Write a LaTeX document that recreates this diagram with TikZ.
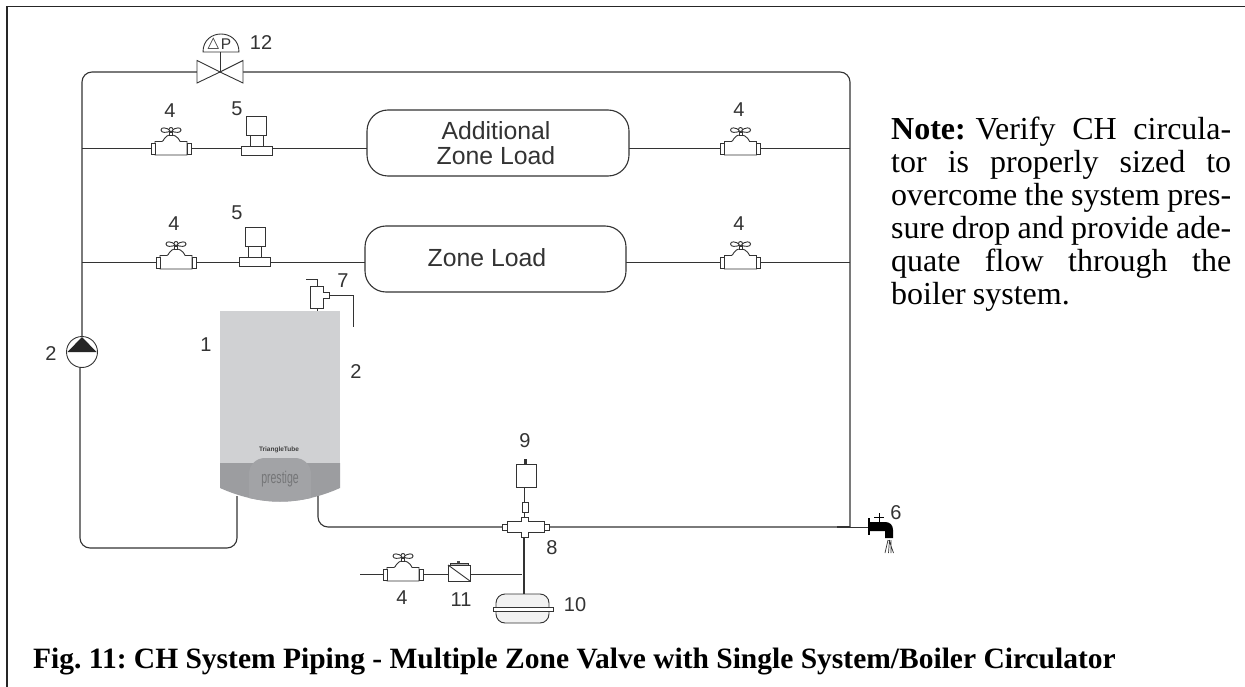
\documentclass[tikz,border=0pt]{standalone}
\usepackage{fontspec}
\setmainfont{Liberation Serif}
\newfontfamily\lab{Liberation Sans}
\newfontfamily\symfont{DejaVu Sans}
\definecolor{pipe}{gray}{0.2}
\definecolor{bodygray}{HTML}{D0D1D3}
\definecolor{bandgray}{HTML}{9C9DA0}
\definecolor{capgray}{HTML}{A2A3A6}
\tikzset{
 x=1pt,y=-1pt,
 pipeline/.style={draw=pipe,line width=1.1pt,rounded corners=10pt},
 sym/.style={draw=pipe,line width=0.9pt,fill=white},
 numlabel/.style={font=\lab\fontsize{20}{20}\selectfont,text=pipe,inner sep=0pt},
 loadbox/.style={draw=pipe,line width=1.1pt,fill=white,rounded corners=21pt,font=\lab\fontsize{24.8}{25}\selectfont,text=pipe,align=center,minimum height=66pt,inner sep=0pt},
 notetext/.style={inner sep=0pt,anchor=north west},
}
\newcommand{\ballvalve}[2]{%
 \begin{scope}[shift={(#1,#2)}]
  \draw[sym] (-16,-6.5) -- (-9,-6.5) .. controls (-7,-6.5) and (-7,-13) .. (0,-13) .. controls (7,-13) and (9,-6.5) .. (9,-6.5) -- (16,-6.5) -- (16,7) -- (-16,7) -- cycle;
  \draw[sym] (-20,-5) rectangle (-16,6);
  \draw[sym] (16,-5) rectangle (20,6);
  \draw[sym] (-1.5,-13) rectangle (1.5,-16);
  \draw[sym] (0,-17) .. controls (-5,-21) and (-10,-21) .. (-10,-18) .. controls (-10,-15) and (-5,-15) .. (0,-17) .. controls (5,-21) and (10,-21) .. (10,-18) .. controls (10,-15) and (5,-15) .. (0,-17);
  \draw[sym] (0,-18.5) circle (2);
 \end{scope}}
\newcommand{\zonevalve}[2]{%
 \begin{scope}[shift={(#1,#2)}]
  \draw[sym] (-15.5,0) rectangle (15.5,9.5);
  \draw[sym] (-6.5,-11) rectangle (6.5,0);
  \draw[sym] (-10,-30) rectangle (10,-11);
 \end{scope}}
\begin{document}
\begin{tikzpicture}
\useasboundingbox (0,0) rectangle (1245,687);
\fill[white] (0,0) rectangle (1245,687);
% frame
\draw[black!85,line width=1.4pt] (7,687) -- (7,6.5) -- (1245,6.5);
% main pipes
\coordinate (v12) at (220,72);
\draw[pipeline] (v12) -- (82,72) -- (82,345);
\draw[pipeline] (v12) -- (850,72) -- (850,527);
% branch lines
\coordinate (b1L) at (82,148);
\coordinate (b1R) at (850,148);
\coordinate (b2L) at (82,262);
\coordinate (b2R) at (850,262);
\draw[draw=pipe,line width=.9pt] (b1L) -- (b1R);
\draw[draw=pipe,line width=.9pt] (b2L) -- (b2R);
% boiler
\fill[bodygray] (220,311) rectangle (340,470);
\fill[bandgray] (220,463) -- (340,463) -- (340,488) .. controls (300,506) and (260,506) .. (220,488) -- cycle;
\fill[capgray] (249,491) -- (249,474) .. controls (249,465) and (256,458) .. (265,458) -- (295,458) .. controls (304,458) and (311,465) .. (311,474) -- (311,498) .. controls (290,503) and (270,503) .. (249,498) -- cycle;
\node[font=\lab\bfseries\fontsize{6.5}{7}\selectfont,text=black!75,inner sep=0pt] (brand) at (279,450) {TriangleTube};
\node[font=\lab\fontsize{17}{17}\selectfont,text=bandgray!75!black,inner sep=0pt,xscale=.62] (pres) at (280,479) {prestige};
% boiler pipes
\coordinate (retTop) at (237,496);
\coordinate (supTop) at (318,496);
\coordinate (pumpB) at (80,366);
\draw[pipeline] (pumpB) -- (80,548) -- (237,548) -- (retTop);
\draw[pipeline] (supTop) -- (318,527) -- (850,527);
\draw[draw=pipe,line width=1.6pt] (837,527) -- (850,527);
\draw[draw=pipe,line width=.9pt] (850,527) -- (870,527);
% pump
\draw[sym,fill=white] (82,352) circle (15.5);
\fill[black!85] (67.5,352) -- (82,337) -- (96.5,352) -- cycle;
% diff valve 12
\draw[sym] (220,72) -- (197,60.5) -- (197,83) -- cycle;
\draw[sym] (220,72) -- (243,60.5) -- (243,83) -- cycle;
\draw[sym] (220,72) -- (220,52);
\draw[sym] (203,52) .. controls (203,28) and (239,28) .. (239,52) -- cycle;
\node[font=\symfont\fontsize{15}{15}\selectfont,text=pipe,inner sep=0pt] (dtri) at (213.5,44) {△};
\node[font=\lab\fontsize{15.5}{15}\selectfont,text=pipe,inner sep=0pt] (dp) at (226,44) {P};
\node[numlabel] (n12) at (261,43) {12};
% valves
\ballvalve{171}{148}
\ballvalve{740.5}{148}
\ballvalve{176}{262}
\ballvalve{740.5}{262}
\zonevalve{256.5}{146}
\zonevalve{255}{257}
\node[numlabel] (n4a) at (170,111) {4};
\node[numlabel] (n5a) at (237,109) {5};
\node[numlabel] (n4b) at (739,110) {4};
\node[numlabel] (n4c) at (174,224) {4};
\node[numlabel] (n5b) at (237,213) {5};
\node[numlabel] (n4d) at (739,224) {4};
% loads
\node[loadbox,minimum width=262pt] (load1) at (498,143) {\hspace*{-4pt}Additional\\\hspace*{-4pt}Zone Load};
\node[loadbox,minimum width=261pt] (load2) at (495.5,259) {\hspace*{-17pt}\raisebox{3.5pt}{Zone Load}};
% air vent 7
\draw[sym] (310,286) rectangle (323,308);
\draw[sym] (323,292) -- (329,292) -- (329,298) -- (323,298);
\draw[sym,fill=none] (329,295) -- (353,295) -- (353,327);
\draw[sym,fill=none] (306,279) -- (317,279) -- (317,286);
\draw[sym,fill=none] (317,308) -- (317,311);
\node[numlabel] (n7) at (343,281) {7};
\node[numlabel] (n1) at (206,345) {1};
\node[numlabel] (n2a) at (356,372) {2};
\node[numlabel] (n2b) at (51,354) {2};
% tee 8 and gauge 9
\draw[draw=pipe,line width=1.1pt] (524,535) -- (524,594);
\draw[draw=pipe,line width=.9pt] (524,487) -- (524,520);
\draw[sym] (507,521) -- (521,521) -- (521,517) -- (528,517) -- (528,521) -- (544,521) -- (544,532) -- (528,532) -- (528,537) -- (521,537) -- (521,532) -- (507,532) -- cycle;
\draw[sym] (502,524) rectangle (507,530);
\draw[sym] (544,524) rectangle (549,530);
\draw[sym] (522,502) rectangle (528,512);
\draw[sym] (516,464) rectangle (536,487);
\fill[black!80] (524,459) rectangle (527,464);
\node[numlabel] (n9) at (525,441) {9};
\node[numlabel] (n8) at (552,548) {8};
% lower branch
\coordinate (lowL) at (360,574);
\coordinate (lowR) at (522,574);
\draw[draw=pipe,line width=.9pt] (lowL) -- (lowR);
\ballvalve{403}{574}
\draw[sym] (448,565) rectangle (470,581);
\draw[sym,fill=none] (448,565) -- (470,581);
\draw[sym,fill=black!30] (450,563) rectangle (468,565);
\fill[black!70] (457,561) rectangle (460,563);
\node[numlabel] (n4e) at (402,598) {4};
\node[numlabel] (n11) at (461,600) {11};
% expansion tank 10
\draw[sym,fill=black!5,rounded corners=9pt] (496,594) rectangle (549,623);
\draw[sym] (493,607.5) rectangle (553,611);
\node[numlabel] (n10) at (575,605) {10};
% drain 6
\draw[draw=black,line width=1.1pt] (869,518) -- (869,535);
\fill[black] (869,522) -- (885,522) .. controls (890,522) and (893,525) .. (893,530) -- (893,538) -- (885,538) -- (885,531) -- (869,531) -- cycle;
\draw[draw=black,line width=.7pt] (879,513) -- (879,522) (874,517.5) -- (884,517.5);
\draw[draw=pipe,line width=.7pt] (888,540) -- (885,553) (889.5,540) -- (888.5,553) (891,540) -- (891,553) (889,540) -- (893.5,553);
\node[numlabel] (n6) at (896,513) {6};
% note
\node[notetext,anchor=north west] (note) at (891,117) {\fontsize{32}{33}\selectfont\spaceskip=.22em plus 1em minus .03em
\vtop{\hsize=340pt\parindent=0pt\baselineskip=33pt\lineskiplimit=-20pt
\hbox to 340pt{\textbf{Note:} Verify\hfil CH\hfil circula-}
\hbox to 340pt{tor\hfil is\hfil properly\hfil sized\hfil to}
\hbox to 340pt{overcome the system pres-}
\hbox to 340pt{sure drop and provide ade-}
\hbox to 340pt{quate\hfil flow\hfil through\hfil the}
\hbox{boiler system.}}};
% caption
\node[inner sep=0pt,anchor=base west,font=\bfseries\fontsize{29.5}{32}\selectfont] (caption) at (33,668) {\frenchspacing Fig. 11: CH System Piping - Multiple Zone Valve with Single System/Boiler Circulator};
\end{tikzpicture}
\end{document}
